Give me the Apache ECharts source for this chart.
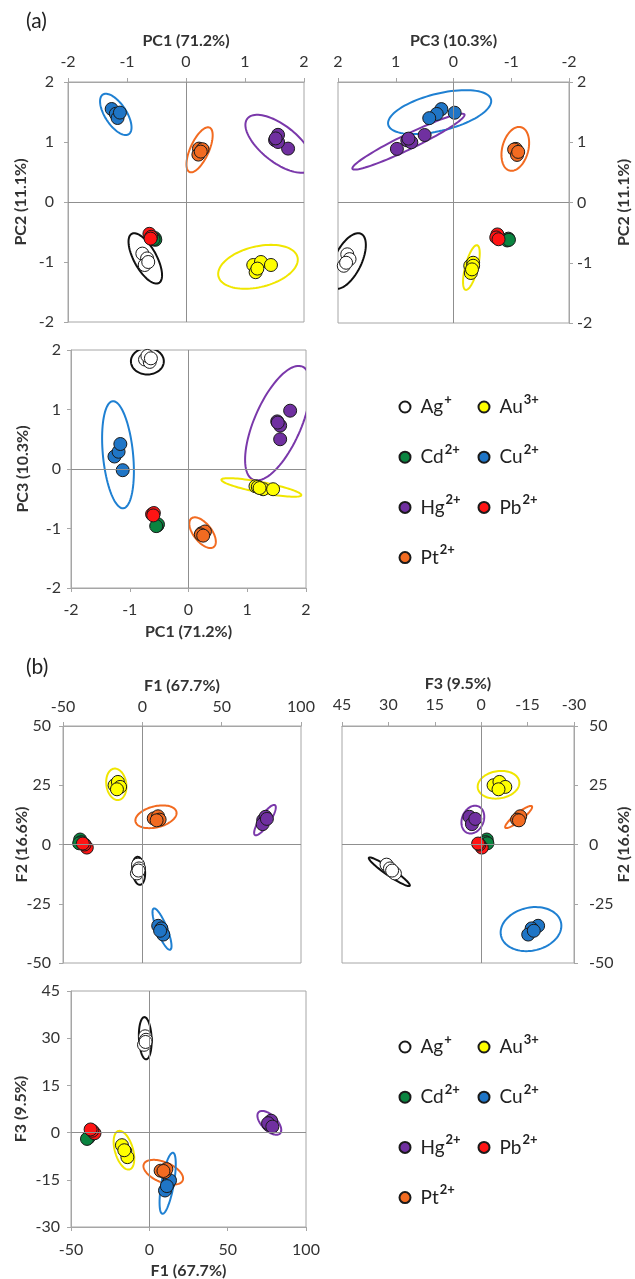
<!DOCTYPE html>
<html>
<head>
<meta charset="utf-8">
<script src="https://cdn.jsdelivr.net/npm/echarts@6/dist/echarts.min.js"></script>
<style>html,body{margin:0;padding:0;background:#fff}#c{width:635px;height:1279px}</style>
</head>
<body>
<div id="c"></div>
<script>
// ---- categories ----
const ionNames = ['Ag','Au','Cd','Cu','Hg','Pb','Pt'];
const ionCharges = ['+','3+','2+','2+','2+','2+','2+'];

// ---- (a) PCA scores, one inner array per ion (order as ionNames) ----
const pc1 = [
  [-0.74,-0.66,-0.70,-0.64],
  [1.14,1.27,1.44,1.18,1.21],
  [-0.53,-0.52,-0.55],
  [-1.26,-1.19,-1.16,-1.12],
  [1.73,1.51,1.56,1.56,1.52],
  [-0.62,-0.59,-0.60],
  [0.22,0.28,0.21,0.25]
];
const pc2 = [
  [-0.86,-0.94,-1.05,-1.00],
  [-1.05,-1.00,-1.05,-1.17,-1.11],
  [-0.60,-0.63,-0.62],
  [1.55,1.47,1.40,1.49],
  [0.89,1.03,1.00,1.12,1.06],
  [-0.53,-0.58,-0.61],
  [0.89,0.88,0.79,0.84]
];
const pc3 = [
  [1.84,1.80,1.90,1.86],
  [-0.29,-0.34,-0.34,-0.30,-0.32],
  [-0.95,-0.93,-0.96],
  [0.21,0.29,0.42,-0.02],
  [0.98,0.80,0.73,0.50,0.78],
  [-0.76,-0.74,-0.78],
  [-1.08,-1.05,-1.10,-1.12]
];

// ---- (b) factor scores ----
const f1 = [
  [-2.7,-2.1,-3.4,-2.4],
  [-17.5,-15.4,-14.0,-16.0],
  [-39.2,-38.5,-39.8],
  [10.0,12.0,13.2,11.2],
  [76.2,77.7,75.8,78.5],
  [-35.0,-36.4,-37.5],
  [7.2,9.9,10.9,9.0]
];
const f2 = [
  [-8.5,-10.1,-12.2,-11.0],
  [25.0,26.4,24.3,23.3],
  [2.1,1.0,0.5],
  [-34.3,-35.4,-38.0,-36.4],
  [10.3,11.7,8.6,10.8],
  [-1.3,0.0,0.4],
  [11.0,11.9,10.5,10.2]
];
const f3 = [
  [30.6,29.5,27.9,28.8],
  [-4.0,-5.9,-7.8,-5.6],
  [-1.8,-1.4,-2.0],
  [-18.4,-16.3,-15.2,-17.0],
  [2.5,3.8,3.0,1.9],
  [-0.2,0.6,1.0],
  [-12.1,-12.6,-11.6,-12.2]
];

// ---- confidence ellipses: [ion, centreX, centreY, majorEndX, majorEndY, minor/major] ----
const ellPC1PC2 = [
  [3,-1.19,1.46,-1.41,1.79,0.45],
  [6,0.23,0.87,0.40,1.24,0.38],
  [4,1.58,0.97,1.04,1.39,0.45],
  [0,-0.69,-0.94,-0.92,-0.53,0.40],
  [1,1.22,-1.08,1.89,-0.92,0.50]
];
const ellPC3PC2 = [
  [3,0.24,1.50,-0.65,1.71,0.35],
  [4,0.78,1.01,-0.19,1.46,0.12],
  [6,-1.07,0.89,-1.17,1.25,0.58],
  [0,1.83,-0.97,1.60,-0.52,0.45],
  [1,-0.31,-1.08,-0.41,-0.71,0.27]
];
const ellPC1PC3 = [
  [0,-0.70,1.81,-0.42,1.81,0.80],
  [3,-1.20,0.24,-1.29,1.14,0.28],
  [4,1.52,0.77,1.94,1.72,0.38],
  [1,1.24,-0.31,1.92,-0.44,0.13],
  [6,0.24,-1.07,0.43,-1.31,0.50]
];
const ellF1F2 = [
  [1,-16.4,25.4,-17.9,32.0,0.63],
  [6,8.6,11.7,21.5,13.8,0.50],
  [4,77.3,10.3,83.6,16.6,0.28],
  [0,-2.3,-11.1,-3.2,-5.2,0.45],
  [3,12.4,-35.7,7.2,-27.0,0.23]
];
const ellF3F2 = [
  [1,-5.6,25.2,-12.3,26.6,0.65],
  [4,2.7,10.5,0.9,16.1,0.75],
  [6,-12.1,11.6,-16.4,16.1,0.22],
  [0,29.7,-11.5,36.3,-5.6,0.15],
  [3,-16.1,-35.7,-25.8,-32.9,0.70]
];
const ellF1F3 = [
  [0,-2.6,30.0,-3.2,36.7,0.30],
  [1,-16.2,-5.6,-19.8,0.5,0.45],
  [6,8.9,-12.6,21.3,-15.2,0.48],
  [3,11.7,-16.1,15.1,-6.4,0.20],
  [4,76.6,3.1,83.4,-0.3,0.50]
];

// ---- styles ----
const fillColors = ['#ffffff','#ffff00','#0a8440','#1f75c6','#7030a0','#ff1414','#f26b21'];
const ringColors = ['#111111','#f0e600','#0a8440','#1f80d2','#7a38aa','#ff1414','#f26b21'];
const FONT = 'Lato';
const TXT = '#333333';
const FRAME = '#a6a6a6';

const grids = [
  {left:68, top:82, width:236, height:240},
  {left:338, top:82, width:231, height:241},
  {left:71, top:350, width:235, height:238},
  {left:63, top:726, width:238, height:237},
  {left:342, top:726, width:232, height:237},
  {left:71, top:991, width:235, height:236}
].map(g => Object.assign({show:true, borderColor:FRAME, borderWidth:1, containLabel:false, outerBoundsMode:'none'}, g));

function axis(gi, pos, min, max, interval, inverse, name, nameGap, margin, vertical) {
  return {
    gridIndex: gi, type:'value', position: pos, min, max, interval, inverse,
    name, nameLocation:'middle', nameGap, nameRotate: vertical ? 90 : 0, nameMoveOverlap:false,
    nameTextStyle:{fontFamily:FONT, fontWeight:'bold', fontSize:16, color:TXT},
    axisLine:{show:true, onZero:false, lineStyle:{color:FRAME, width:1}},
    axisTick:{show:true, inside:false, length:4, lineStyle:{color:FRAME}},
    axisLabel:{fontFamily:FONT, fontSize:16, color:TXT, margin, hideOverlap:false},
    splitLine:{show:false}
  };
}

const xAxes = [
  axis(0,'top',-2,2,1,false,'PC1 (71.2%)',33,12),
  axis(1,'top',-2,2,1,true,'PC3 (10.3%)',33,12),
  axis(2,'bottom',-2,2,1,false,'PC1 (71.2%)',36,14),
  axis(3,'top',-50,100,50,false,'F1 (67.7%)',32,11),
  axis(4,'top',-30,45,15,true,'F3 (9.5%)',34,13),
  axis(5,'bottom',-50,100,50,false,'F1 (67.7%)',36,15)
];
const yAxes = [
  axis(0,'left',-2,2,1,false,'PC2 (11.1%)',39,14,true),
  axis(1,'right',-2,2,1,false,'PC2 (11.1%)',47,8,true),
  axis(2,'left',-2,2,1,false,'PC3 (10.3%)',40,10,true),
  axis(3,'left',-50,50,25,false,'F2 (16.6%)',33,12,true),
  axis(4,'right',-50,50,25,false,'F2 (16.6%)',42,15,true),
  axis(5,'left',-30,45,15,false,'F3 (9.5%)',42,11,true)
];

const panels = [
  {xs:pc1, ys:pc2, ell:ellPC1PC2},
  {xs:pc3, ys:pc2, ell:ellPC3PC2},
  {xs:pc1, ys:pc3, ell:ellPC1PC3},
  {xs:f1, ys:f2, ell:ellF1F2},
  {xs:f3, ys:f2, ell:ellF3F2},
  {xs:f1, ys:f3, ell:ellF1F3}
];

function ellipseItem(params, api) {
  const ion = api.value(0);
  const c = api.coord([api.value(1), api.value(2)]);
  const e = api.coord([api.value(3), api.value(4)]);
  const r = api.value(5);
  const ux = e[0]-c[0], uy = e[1]-c[1];
  const vx = -uy*r, vy = ux*r;
  const pts = [];
  const N = 90;
  for (let i = 0; i < N; i++) {
    const t = i / N * Math.PI * 2;
    pts.push([c[0] + ux*Math.cos(t) + vx*Math.sin(t), c[1] + uy*Math.cos(t) + vy*Math.sin(t)]);
  }
  return {type:'polygon', shape:{points:pts}, style:{fill:'none', stroke:ringColors[ion], lineWidth:2}};
}

const series = [];
panels.forEach((p, gi) => {
  series.push({
    type:'scatter', xAxisIndex:gi, yAxisIndex:gi, data:[], silent:true, z:0,
    markLine:{silent:true, symbol:'none', animation:false, label:{show:false},
      lineStyle:{color:'#8f8f8f', type:'solid', width:1}, emphasis:{disabled:true},
      data:[{xAxis:0},{yAxis:0}]}
  });
  series.push({
    type:'custom', xAxisIndex:gi, yAxisIndex:gi, data:p.ell, renderItem:ellipseItem,
    clip:true, silent:true, z:1
  });
  ionNames.forEach((nm, k) => {
    series.push({
      name:nm, type:'scatter', xAxisIndex:gi, yAxisIndex:gi, z:2,
      symbol:'circle', symbolSize:13,
      itemStyle:{color:fillColors[k], borderColor:'#1a1a1a', borderWidth:1, opacity:1},
      data:p.xs[k].map((v, j) => [v, p.ys[k][j]])
    });
  });
});

function legend(names, left, top) {
  return {
    data:names, orient:'vertical', left, top, padding:0, itemGap:26.7,
    itemWidth:11, itemHeight:11, icon:'circle',
    formatter: n => { const i = ionNames.indexOf(n); return '{n|' + n + '}{s|' + ionCharges[i] + '}'; },
    textStyle:{ rich:{
      n:{fontFamily:FONT, fontSize:19, color:'#222', lineHeight:20, padding:[0,0,0,5]},
      s:{fontFamily:FONT, fontSize:13, fontWeight:'bold', color:'#222', lineHeight:20, verticalAlign:'top', padding:[-4,0,0,1]}
    }}
  };
}

const option = {
  animation:false,
  backgroundColor:'#fff',
  title:[
    {text:'(a)', left:26, top:11, padding:0, textStyle:{fontFamily:FONT, fontSize:21, fontWeight:'normal', color:'#222'}},
    {text:'(b)', left:26, top:657, padding:0, textStyle:{fontFamily:FONT, fontSize:21, fontWeight:'normal', color:'#222'}}
  ],
  legend:[
    legend(['Ag','Cd','Hg','Pt'], 398.5, 393),
    legend(['Au','Cu','Pb'], 477.5, 393),
    legend(['Ag','Cd','Hg','Pt'], 398.5, 1033),
    legend(['Au','Cu','Pb'], 477.5, 1033)
  ],
  grid:grids,
  xAxis:xAxes,
  yAxis:yAxes,
  series
};

const chart = echarts.init(document.getElementById('c'), null, {renderer:'canvas'});
chart.setOption(option);
</script>
</body>
</html>
